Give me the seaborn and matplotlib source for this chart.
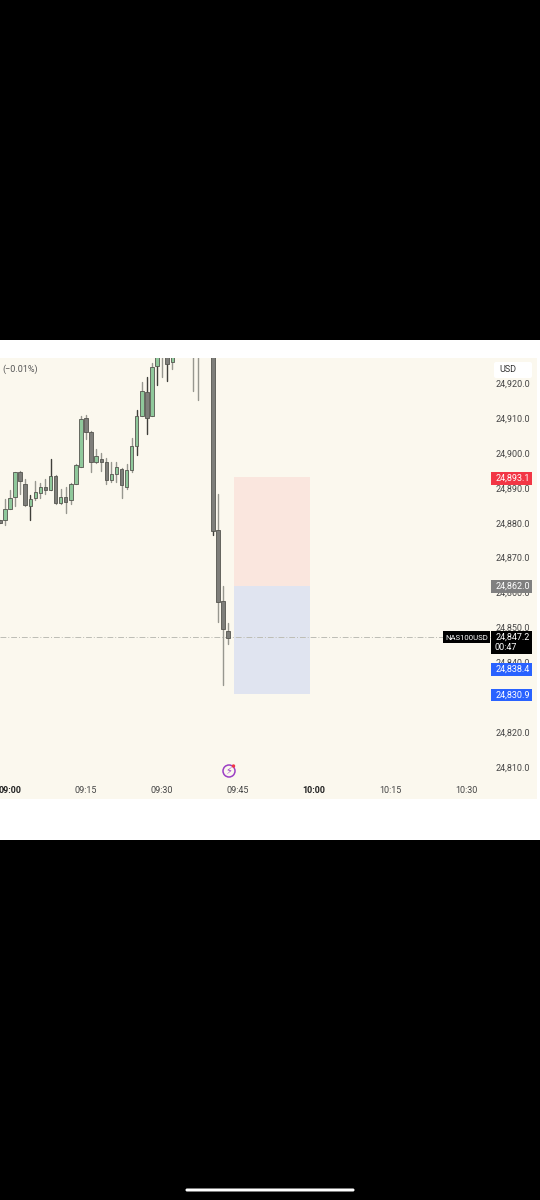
import matplotlib
matplotlib.use("Agg")
import matplotlib.pyplot as plt
import pandas as pd
import seaborn as sns
from matplotlib.patches import Rectangle, FancyBboxPatch, Circle
from matplotlib.transforms import Affine2D

minutes = list(range(-2, 33)) + [36, 37, 40, 41, 42, 43]
opens = [24880.8, 24880.7, 24883.8, 24887.5, 24894.4, 24891.0, 24884.8, 24887.1, 24888.6, 24890.2,
         24889.5, 24893.4, 24885.6, 24887.3, 24886.4, 24891.2, 24896.1, 24910.0, 24906.1, 24897.3,
         24898.2, 24897.5, 24892.3, 24894.0, 24895.3, 24890.3, 24895.1, 24902.1, 24910.7, 24917.4,
         24910.7, 24924.8, 24928.0, 24928.5, 24926.0, 24929.0, 24929.0, 24935.0, 24877.9, 24857.6, 24849.0]
closes = [24880.0, 24883.8, 24887.1, 24894.4, 24891.9, 24885.1, 24886.7, 24888.7, 24890.2, 24889.5,
          24893.3, 24885.7, 24887.3, 24886.0, 24891.1, 24896.5, 24909.7, 24905.9, 24897.3, 24899.1,
          24897.3, 24892.3, 24894.0, 24895.9, 24890.7, 24895.2, 24902.1, 24910.7, 24917.7, 24910.1,
          24924.7, 24927.8, 24929.0, 24925.4, 24928.6, 24928.0, 24928.0, 24877.7, 24857.4, 24849.6, 24847.0]
highs = [24880.9, 24886.7, 24889.5, 24894.6, 24894.8, 24892.6, 24888.0, 24892.0, 24891.3, 24892.6,
         24898.3, 24893.7, 24889.8, 24890.3, 24891.3, 24896.8, 24910.6, 24910.8, 24906.2, 24901.0,
         24899.9, 24898.5, 24897.5, 24897.5, 24895.6, 24896.8, 24904.4, 24912.2, 24920.4, 24921.7,
         24925.9, 24929.0, 24931.0, 24930.0, 24929.0, 24931.0, 24931.0, 24938.0, 24888.2, 24861.9, 24851.3]
lows = [24879.9, 24879.3, 24883.8, 24884.8, 24888.2, 24884.9, 24880.9, 24886.5, 24887.1, 24888.2,
        24889.4, 24885.5, 24885.5, 24882.9, 24885.5, 24891.1, 24896.0, 24903.9, 24894.6, 24897.1,
        24894.7, 24891.1, 24891.8, 24891.8, 24887.0, 24889.8, 24894.6, 24899.3, 24910.6, 24905.4,
        24910.6, 24919.6, 24921.8, 24920.5, 24924.0, 24917.8, 24915.2, 24876.5, 24851.6, 24833.5, 24845.2]
dark_wick_minutes = [4, 8, 25, 27, 29, 31, 40]

y_ticks = [24810, 24820, 24840, 24850, 24860, 24870, 24880, 24890, 24900, 24910, 24920]
x_ticks = [0, 15, 30, 45, 60, 75, 90]
x_labels = ["09:00", "09:15", "09:30", "09:45", "10:00", "10:15", "10:30"]
bold_labels = ["09:00", "10:00"]

entry_price = 24862.0
stop_price = 24893.1
target_price = 24830.9
last_price = 24847.2
bid_price = 24838.4
position_start = 44.1
position_end = 59.1

BG = "#FBF8EE"
GREEN = "#8FC89B"
GREY_BODY = "#7E7E7A"
EDGE = "#55554F"
WICK = "#97978F"
FONT = "Roboto"

sns.set_theme(style="white", rc={"font.family": FONT})
plt.rcParams["font.family"] = [FONT, "DejaVu Sans"]

fig = plt.figure(figsize=(5.4, 12), dpi=100, facecolor="black")
to_fig = Affine2D().scale(1 / 540, -1 / 1200).translate(0, 1) + fig.transFigure


def box(x0, y0, x1, y1, color, z=1.0):
    fig.add_artist(Rectangle((x0, y0), x1 - x0, y1 - y0, transform=to_fig,
                             facecolor=color, edgecolor="none", zorder=z))


def label(x, y, text, color="white", size=6.5, ha="center", **kw):
    fig.text(x / 540, 1 - y / 1200, text, color=color, fontsize=size, ha=ha,
             va="center", zorder=5, **kw)


box(0, 340, 540, 840, "white", 0.1)
box(0, 358, 537, 799, BG, 0.2)

ax = fig.add_axes([0, 1 - 778 / 1200, 491 / 540, (778 - 358) / 1200], zorder=1)
ax.patch.set_alpha(0)
ax.set_xlim(-1.97, 94.87)
ax.set_ylim(24806.85, 24927.2)

df = pd.DataFrame({"minute": minutes, "open": opens, "high": highs, "low": lows, "close": closes})
df["dark"] = df["minute"].isin(dark_wick_minutes)
wicks = df.melt(id_vars=["minute", "dark"], value_vars=["low", "high"], value_name="price")
for dark, sub in wicks.groupby("dark"):
    sns.lineplot(data=sub, x="minute", y="price", units="minute", estimator=None, ax=ax,
                 color="#3F3F3A" if dark else WICK, lw=1.0, legend=False, zorder=2)

up = df[df["close"] >= df["open"]]
down = df[df["close"] < df["open"]]
for sub, color in ((up, GREEN), (down, GREY_BODY)):
    ax.bar(sub["minute"], (sub["close"] - sub["open"]).abs(),
           bottom=sub[["open", "close"]].min(axis=1), width=0.68,
           color=color, edgecolor=EDGE, linewidth=0.6, zorder=3)

ax.axhspan(entry_price, stop_price, xmin=(position_start + 1.97) / 96.84,
           xmax=(position_end + 1.97) / 96.84, color="#FAE6DE", lw=0, zorder=1)
ax.axhspan(target_price, entry_price, xmin=(position_start + 1.97) / 96.84,
           xmax=(position_end + 1.97) / 96.84, color="#E0E4F0", lw=0, zorder=1)
ax.axhline(last_price, color="#BDBDB5", lw=0.7, ls=(0, (6, 2, 1, 2)), zorder=1.5)

ax.set_xlabel("")
ax.set_ylabel("")
ax.set_xticks(x_ticks)
ax.set_xticklabels(x_labels)
ax.yaxis.tick_right()
ax.set_yticks(y_ticks)
ax.set_yticklabels([f"{v:,.1f}" for v in y_ticks])
ax.tick_params(axis="y", length=0, pad=3.5, labelsize=6.5, labelcolor="#454545")
ax.tick_params(axis="x", length=0, pad=5.5, labelsize=6.5, labelcolor="#454545")
for t in ax.get_xticklabels():
    if t.get_text() in bold_labels:
        t.set_fontweight("bold")
        t.set_color("#222222")
sns.despine(ax=ax, left=True, bottom=True, right=True, top=True)

# Price-scale tags
tags = [(stop_price, 471.5, 484.5, "#F23645"), (entry_price, 580, 593, "#808080"),
        (bid_price, 663, 675.5, "#2962FF"), (target_price, 689, 701, "#2962FF")]
for price, y0, y1, color in tags:
    box(491, y0, 532, y1, color, 2)
    label(512.5, (y0 + y1) / 2, f"{price:,.1f}")
box(491, 631, 532, 654, "black", 2)
label(512.5, 637.5, f"{last_price:,.1f}")
label(506, 648, "00:47")
box(443, 631, 490, 643, "black", 2)
label(466.5, 637.5, "NAS100USD", size=5.6)

fig.add_artist(FancyBboxPatch((495, 363), 36, 14, boxstyle="round,pad=1,rounding_size=2",
                              transform=to_fig, facecolor="white", edgecolor="none", zorder=2))
label(499, 370, "USD", color="#333333", ha="left")
label(2, 369, "(−0.01%)", color="#555555", ha="left")

# Lightning event marker
fig.add_artist(Circle((229, 771), 6, transform=to_fig, facecolor="none",
                      edgecolor="#9C3FC4", linewidth=1.1, zorder=3))
label(229, 771, "⚡", color="#9C3FC4", size=7, family=["DejaVu Sans"])
fig.add_artist(Circle((233.5, 766), 1.7, transform=to_fig, facecolor="#F23645",
                      edgecolor="none", zorder=4))

# Home indicator
fig.add_artist(FancyBboxPatch((186, 1189), 168, 2, boxstyle="round,pad=0.5,rounding_size=1.5",
                              transform=to_fig, facecolor="white", edgecolor="none", zorder=2))

fig.savefig("out.png", dpi=100, facecolor="black")
